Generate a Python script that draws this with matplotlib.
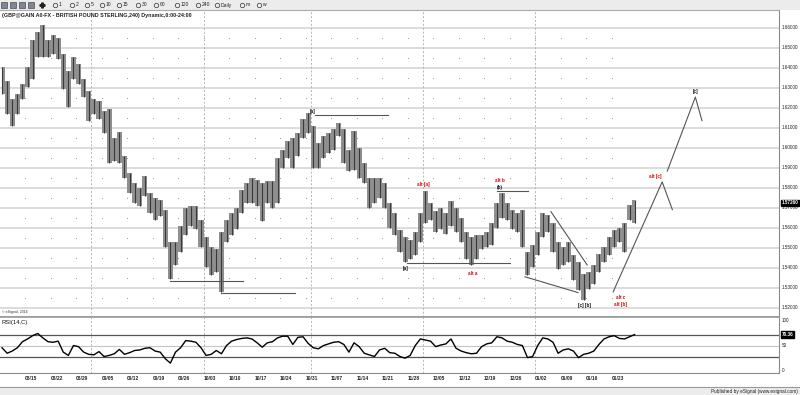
import matplotlib
matplotlib.use("Agg")
import matplotlib.pyplot as plt
import numpy as np

plt.rcParams['font.family'] = ['Liberation Sans', 'DejaVu Sans']

# trading-day index, day 0 = monday 08/15 (one bar per day)
days = np.arange(-5, 120)

highs = [1.6402, 1.6333, 1.6244, 1.6269, 1.6319,
         1.6402, 1.6541, 1.6580, 1.6615, 1.6541, 1.6565, 1.6551, 1.6467, 1.6383, 1.6452,
         1.6417, 1.6343, 1.6284, 1.6244, 1.6235, 1.6185, 1.6195, 1.6047, 1.6081, 1.5958,
         1.5874, 1.5825, 1.5800, 1.5859, 1.5775, 1.5751, 1.5741, 1.5691, 1.5528, 1.5528,
         1.5612, 1.5701, 1.5711, 1.5711, 1.5642, 1.5553, 1.5504, 1.5494, 1.5578, 1.5642,
         1.5677, 1.5701, 1.5790, 1.5825, 1.5849, 1.5840, 1.5825, 1.5835, 1.5835, 1.5948,
         1.5988, 1.6032, 1.6047, 1.6072, 1.6146, 1.6175, 1.6111, 1.6022, 1.6057, 1.6072,
         1.6096, 1.6126, 1.6096, 1.5988, 1.6086, 1.5998, 1.5923, 1.5849, 1.5849, 1.5849,
         1.5825, 1.5726, 1.5677, 1.5588, 1.5553, 1.5538, 1.5578, 1.5677, 1.5785, 1.5726,
         1.5686, 1.5701, 1.5677, 1.5736, 1.5701, 1.5652, 1.5578, 1.5553, 1.5563, 1.5563,
         1.5578, 1.5627, 1.5726, 1.5775, 1.5726, 1.5691, 1.5677, 1.5691, 1.5479, 1.5514,
         1.5578, 1.5677, 1.5667, 1.5627, 1.5528, 1.5504, 1.5528, 1.5464, 1.5430, 1.5370,
         1.5380, 1.5415, 1.5469, 1.5504, 1.5553, 1.5588, 1.5602, 1.5627, 1.5716, 1.5741]

lows = [1.6269, 1.6170, 1.6111, 1.6170, 1.6244,
        1.6304, 1.6343, 1.6452, 1.6452, 1.6452, 1.6467, 1.6442, 1.6294, 1.6205, 1.6343,
        1.6319, 1.6254, 1.6136, 1.6170, 1.6146, 1.6072, 1.5923, 1.5933, 1.5923, 1.5849,
        1.5775, 1.5726, 1.5711, 1.5760, 1.5677, 1.5642, 1.5662, 1.5504, 1.5346, 1.5415,
        1.5479, 1.5563, 1.5612, 1.5593, 1.5504, 1.5405, 1.5365, 1.5380, 1.5281, 1.5528,
        1.5563, 1.5593, 1.5677, 1.5726, 1.5726, 1.5711, 1.5637, 1.5726, 1.5701, 1.5726,
        1.5899, 1.5948, 1.5899, 1.5958, 1.6047, 1.6072, 1.5899, 1.5899, 1.5948, 1.5973,
        1.5988, 1.6057, 1.5923, 1.5884, 1.5889, 1.5849, 1.5825, 1.5701, 1.5726, 1.5751,
        1.5701, 1.5602, 1.5563, 1.5479, 1.5430, 1.5444, 1.5464, 1.5528, 1.5627, 1.5642,
        1.5578, 1.5593, 1.5568, 1.5612, 1.5578, 1.5528, 1.5444, 1.5415, 1.5444, 1.5494,
        1.5504, 1.5514, 1.5602, 1.5652, 1.5642, 1.5593, 1.5578, 1.5504, 1.5365, 1.5405,
        1.5464, 1.5553, 1.5578, 1.5479, 1.5395, 1.5415, 1.5430, 1.5341, 1.5291, 1.5242,
        1.5296, 1.5321, 1.5380, 1.5430, 1.5464, 1.5504, 1.5528, 1.5479, 1.5642, 1.5627]

rsi = [46, 36, 40, 46, 57,
       62, 68, 72, 64, 57, 56, 58, 38, 32, 50,
       48, 38, 34, 33, 39, 30, 32, 35, 43, 34,
       37, 41, 42, 45, 46, 40, 38, 26, 18, 38,
       46, 59, 58, 56, 46, 32, 34, 41, 35, 50,
       58, 61, 63, 64, 62, 55, 47, 55, 57, 64,
       67, 67, 52, 65, 66, 54, 46, 44, 50, 53,
       56, 57, 52, 38, 55, 48, 36, 33, 30, 42,
       45, 37, 36, 30, 27, 32, 50, 62, 60, 58,
       48, 51, 53, 62, 45, 40, 37, 35, 36, 48,
       53, 55, 66, 64, 58, 56, 52, 50, 28, 30,
       50, 64, 62, 56, 36, 42, 44, 40, 28, 34,
       36, 40, 52, 62, 66, 68, 63, 62, 66, 70]

last_price = 1.5726
last_rsi = 70.36

week_labels = ['08/15', '08/22', '08/29', '09/05', '09/12', '09/19', '09/26', '10/03',
               '10/10', '10/17', '10/24', '10/31', '11/07', '11/14', '11/21', '11/28',
               '12/05', '12/12', '12/19', '12/26', '01/02', '01/09', '01/16', '01/23']
week_pos = np.arange(0, 120, 5)
month_lines = [13, 35, 56, 78, 100]
price_ticks = np.round(np.arange(1.52, 1.6601, 0.01), 2)

# elliott wave count drawn on the chart
flat_lines = [(28.4, 42.7, 1.5335), (38.4, 52.9, 1.5277), (56.9, 71.2, 1.6165),
              (74.9, 95.1, 1.5425), (92.5, 98.6, 1.5785)]
wedge_lines = [([103.1, 110.2], [1.5681, 1.5415]),
               ([98.0, 108.4], [1.5356, 1.5277])]
path_lines = [([115.3, 124.9, 126.9], [1.5281, 1.5830, 1.5691]),
              ([125.9, 131.4, 132.7], [1.5884, 1.6254, 1.6136])]
wave_labels = [('[a]', 56.3, 1.6180, 'k'), ('[a]', 74.7, 1.5395, 'k'),
               ('alt [a]', 78.0, 1.5815, 'r'), ('alt a', 87.8, 1.5370, 'r'),
               ('alt b', 93.1, 1.5836, 'r'), ('(b)', 93.1, 1.5803, 'k'),
               ('[c] [b]', 109.6, 1.5212, 'k'), ('alt c', 116.7, 1.5250, 'r'),
               ('alt [b]', 116.7, 1.5218, 'r'), ('alt [c]', 123.5, 1.5859, 'r'),
               ('[c]', 131.4, 1.6284, 'k')]

toolbar_items = ['1', '2', '5', '10', '15', '30', '60', '120', '240', 'Daily', 'm', 'w']
toolbar_x = [55, 72, 87, 102, 119, 138, 156, 177, 198, 217, 242, 259]

W, H = 800, 395


def fy(py):
    return 1 - py / H


fig = plt.figure(figsize=(8, 3.95), dpi=100)
fig.patch.set_facecolor('white')

XMIN, XMAX = -4.9, 147.8

# toolbar
tb = fig.add_axes([0, fy(10), 1, 10 / H])
tb.set_facecolor('#ececec')
tb.set_xlim(0, W)
tb.set_ylim(0, 10)
tb.set_xticks([])
tb.set_yticks([])
for s in tb.spines.values():
    s.set_visible(False)
for ix in [4, 13, 22, 31]:
    tb.add_patch(plt.Rectangle((ix - 3, 2), 6, 6, fc='#7d8796', ec='#333', lw=0.4))
tb.plot([42], [5], marker='P', ms=3.5, color='#222')
for lab, x in zip(toolbar_items, toolbar_x):
    tb.plot([x], [5], marker='o', ms=3.2, mfc='#ececec', mec='#333', mew=0.5)
    tb.text(x + 3.5, 5, lab, fontsize=3.6, va='center', ha='left', color='#222')

# main price panel
ax = fig.add_axes([0, fy(316.5), 779 / W, (316.5 - 10) / H])
ax.set_xlim(XMIN, XMAX)
ax.set_ylim(1.51575, 1.66889)
ax.set_xticks([])
ax.set_yticks([])
for p in price_ticks:
    ax.axhline(p, color='#d2d2d2', lw=1.1, zorder=0)
for m in month_lines:
    ax.axvline(m, color='#b4b4b4', lw=0.7, ls=(0, (2, 2)), zorder=0)
gx, gy = np.meshgrid(week_pos, price_ticks[:-1] + 0.005)
ax.scatter(gx.ravel(), gy.ravel(), s=0.5, c='#9a9a9a', lw=0, zorder=0)

# daily ranges: grey band plus a darker stroke per bar
ax.fill_between(days + 0.5, lows, highs, step='mid', color='#8f8f8f', lw=0, zorder=1)
ax.vlines(days + 0.5, lows, highs, color='#3a3a3a', lw=0.8, zorder=2)

for x0, x1, y in flat_lines:
    ax.plot([x0, x1], [y, y], color='#555', lw=0.8, zorder=3)
for xs, ys in wedge_lines + path_lines:
    ax.plot(xs, ys, color='#555', lw=0.8, zorder=3)
for txt, x, y, c in wave_labels:
    ax.text(x, y, txt, fontsize=3.3, ha='center', va='center',
            color='#e00000' if c == 'r' else '#111', fontweight='bold', zorder=4)

for p in price_ticks:
    ax.text(1.004, p, '%.5f' % p, transform=ax.get_yaxis_transform(),
            fontsize=3.3, va='center', ha='left', color='#222', clip_on=False)
ax.text(1.003, last_price, '%.5f' % last_price, transform=ax.get_yaxis_transform(),
        fontsize=3.3, va='center', ha='left', color='white', fontweight='bold',
        bbox=dict(boxstyle='square,pad=0.15', fc='black', ec='black'), zorder=5)

ax.text(0.003, 0.982, '(GBP@GAIN A0-FX - BRITISH POUND STERLING,240) Dynamic,0:00-24:00',
        transform=ax.transAxes, fontsize=3.9, fontweight='bold', va='center', ha='left', color='#222')
ax.text(0.003, 0.008, '\u00a9 eSignal, 2016', transform=ax.transAxes,
        fontsize=2.6, va='bottom', ha='left', color='#333')

ax.spines['left'].set_visible(False)
ax.spines['right'].set_color('#8c8c8c')
ax.spines['top'].set_color('#aaaaaa')
ax.spines['bottom'].set_color('#9a9a9a')
ax.spines['bottom'].set_linewidth(1.2)

# rsi panel
rax = fig.add_axes([0, fy(373), 779 / W, (373 - 317) / H])
rax.set_xlim(XMIN, XMAX)
rax.set_ylim(0, 102)
rax.set_xticks([])
rax.set_yticks([])
rax.axhline(70, color='#555', lw=0.9, zorder=1)
rax.axhline(30, color='#555', lw=0.9, zorder=1)
rax.axhline(50, color='#c4c4c4', lw=0.8, zorder=1)
for m in month_lines:
    rax.axvline(m, color='#b4b4b4', lw=0.7, ls=(0, (2, 2)), zorder=0)
rax.plot(days + 0.5, rsi, color='black', lw=1.0, zorder=3)
rax.text(0.002, 0.9, 'RSI(14,C)', transform=rax.transAxes, fontsize=4.2,
         va='center', ha='left', color='#111')
for v, va in [(100, 'top'), (50, 'center'), (0, 'bottom')]:
    rax.text(1.004, v, str(v), transform=rax.get_yaxis_transform(), fontsize=3.3,
             va=va, ha='left', color='#222', clip_on=False)
rax.text(1.003, last_rsi, '%.2f' % last_rsi, transform=rax.get_yaxis_transform(),
         fontsize=3.3, va='center', ha='left', color='white', fontweight='bold',
         bbox=dict(boxstyle='square,pad=0.15', fc='black', ec='black'), zorder=5)
rax.spines['left'].set_visible(False)
for side in ['right', 'bottom']:
    rax.spines[side].set_color('#8c8c8c')
rax.spines['top'].set_color('#9a9a9a')
rax.spines['top'].set_linewidth(1.2)

for lab, x in zip(week_labels, week_pos):
    rax.text(x, -0.06, lab, transform=rax.get_xaxis_transform(), fontsize=3.5,
             fontweight='bold', va='top', ha='left', color='#222', clip_on=False)

# status bar
sb = fig.add_axes([0, 0, 1, 8.5 / H])
sb.set_facecolor('#ececec')
sb.set_xticks([])
sb.set_yticks([])
for s in ['left', 'right', 'bottom']:
    sb.spines[s].set_visible(False)
sb.spines['top'].set_color('#999')
sb.text(0.997, 0.45, 'Published by eSignal (www.esignal.com)', fontsize=3.4,
        ha='right', va='center', color='#222', transform=sb.transAxes)

fig.savefig('out.png', dpi=100)
